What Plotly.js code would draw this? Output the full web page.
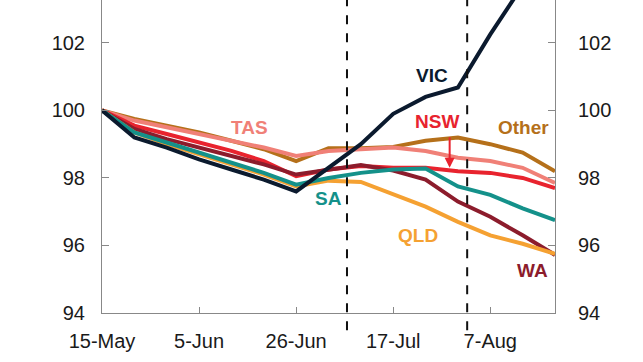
<!DOCTYPE html>
<html>
<head>
<meta charset="utf-8">
<script src="https://cdn.plot.ly/plotly-3.0.1.min.js"></script>
<style>html,body{margin:0;padding:0;background:#fff}#chart{width:643px;height:362px}</style>
</head>
<body>
<div id="chart"></div>
<script>
// Weekly dates (2020)
var dates = ['2020-05-15','2020-05-22','2020-05-29','2020-06-05','2020-06-12','2020-06-19','2020-06-26',
             '2020-07-03','2020-07-10','2020-07-17','2020-07-24','2020-07-31','2020-08-07','2020-08-14','2020-08-21'];
var vic   = [100, 99.2, 98.9, 98.55, 98.25, 97.95, 97.6, 98.3, 99.0, 99.9, 100.4, 100.68, 102.25, 103.7, 105.0];
var nsw   = [100, 99.55, 99.3, 99.05, 98.8, 98.5, 98.05, 98.25, 98.35, 98.3, 98.3, 98.2, 98.15, 98.0, 97.7];
var tas   = [100, 99.7, 99.5, 99.3, 99.1, 98.9, 98.65, 98.8, 98.85, 98.9, 98.8, 98.6, 98.5, 98.3, 97.85];
var other = [100, 99.75, 99.55, 99.35, 99.1, 98.85, 98.5, 98.88, 98.88, 98.92, 99.1, 99.2, 99.0, 98.75, 98.2];
var sa    = [100, 99.35, 99.05, 98.75, 98.45, 98.15, 97.8, 98.0, 98.15, 98.25, 98.28, 97.75, 97.5, 97.1, 96.75];
var qld   = [100, 99.35, 99.0, 98.7, 98.4, 98.1, 97.75, 97.92, 97.88, 97.5, 97.15, 96.7, 96.3, 96.05, 95.75];
var wa    = [100, 99.45, 99.15, 98.9, 98.65, 98.4, 98.1, 98.25, 98.38, 98.22, 97.95, 97.3, 96.85, 96.3, 95.72];
var eventDates = ['2020-07-07', '2020-08-02'];
var yTicks = [94, 96, 98, 100, 102];
var names = ['Other','TAS','NSW','WA','QLD','SA','VIC'];
var series = [other, tas, nsw, wa, qld, sa, vic];
var colors = ['#b5701a','#f08077','#e8232e','#8c1c2c','#f5a132','#14918a','#0b1a2e'];

var traces = series.map(function(s, i){
  return {x: dates, y: s, type: 'scatter', mode: 'lines', name: names[i],
          line: {color: colors[i], width: 4}, hoverinfo: 'skip'};
});

var yr = [94, 103.27];
var fontFam = '"Liberation Sans", Arial, sans-serif';
var shapes = eventDates.map(function(d){
  return {type: 'line', xref: 'x', yref: 'paper', x0: d, x1: d, y0: -0.055, y1: 1,
          line: {color: '#111', width: 2, dash: 'dash'}};
});

var labels = [
  {t: 'TAS',   x: '2020-06-16', y: 99.48, c: '#f08077'},
  {t: 'VIC',   x: '2020-07-25 10:00', y: 101.02, c: '#0b1a2e'},
  {t: 'NSW',   x: '2020-07-26 10:00', y: 99.66, c: '#e8232e'},
  {t: 'Other', x: '2020-08-14 05:00', y: 99.48, c: '#b5701a'},
  {t: 'SA',    x: '2020-07-02 22:00', y: 97.38, c: '#14918a'},
  {t: 'QLD',   x: '2020-07-22 10:00', y: 96.31, c: '#f5a132'},
  {t: 'WA',    x: '2020-08-16 05:00', y: 95.27, c: '#8c1c2c'}
];
var annotations = labels.map(function(l){
  return {x: l.x, y: l.y, xref: 'x', yref: 'y', text: '<b>' + l.t + '</b>', showarrow: false,
          font: {family: fontFam, size: 19, color: l.c}};
});
annotations.push({x: '2020-07-29 05:00', y: 98.3, xref: 'x', yref: 'y', text: '', showarrow: true,
  ax: 0, ay: -32, arrowhead: 2, arrowsize: 1, arrowwidth: 2, arrowcolor: '#e8232e'});

var layout = {
  width: 643, height: 362,
  margin: {l: 101.6, r: 88, t: 0, b: 49, pad: 0},
  paper_bgcolor: '#fff', plot_bgcolor: '#fff',
  showlegend: false,
  font: {family: fontFam, size: 20, color: '#1a1a1a'},
  xaxis: {type: 'date', range: ['2020-05-15', '2020-08-21'], tick0: '2020-05-15', dtick: 21*86400000,
          tickformat: '%-d-%b', ticks: 'inside', ticklen: 6, tickcolor: '#888', showline: true,
          linecolor: '#888', linewidth: 1, showgrid: false, zeroline: false, ticklabelstandoff: 10,
          tickfont: {family: fontFam, size: 20, color: '#1a1a1a'}},
  yaxis: {range: yr, tickvals: yTicks, ticks: 'inside', ticklen: 7, tickcolor: '#888', showline: true,
          linecolor: '#888', linewidth: 1, showgrid: false, zeroline: false, ticklabelstandoff: 12,
          tickfont: {family: fontFam, size: 20, color: '#1a1a1a'}},
  yaxis2: {range: yr, tickvals: yTicks, overlaying: 'y', side: 'right', ticks: 'inside', ticklen: 7,
           tickcolor: '#888', showline: true, linecolor: '#888', linewidth: 1, showgrid: false,
           zeroline: false, ticklabelstandoff: 18, tickfont: {family: fontFam, size: 20, color: '#1a1a1a'}},
  shapes: shapes,
  annotations: annotations
};
// invisible trace so the right-hand axis is drawn
traces.push({x: [dates[0]], y: [100], yaxis: 'y2', type: 'scatter', mode: 'markers',
             marker: {opacity: 0}, hoverinfo: 'skip', showlegend: false});

Plotly.newPlot('chart', traces, layout, {staticPlot: true});
</script>
</body>
</html>
